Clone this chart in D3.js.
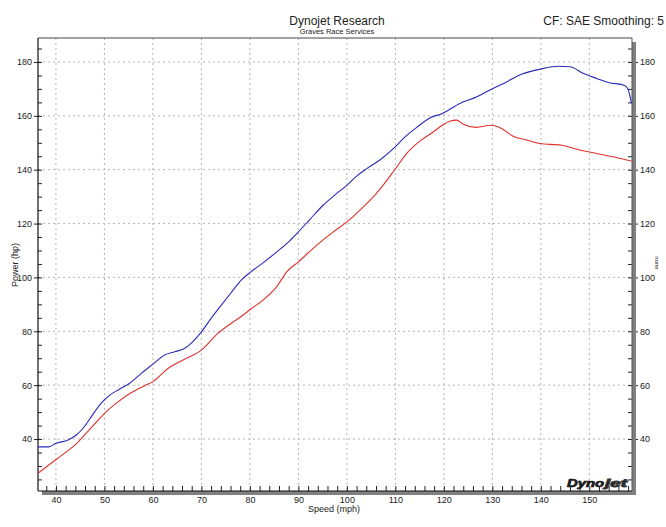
<!DOCTYPE html>
<html>
<head>
<meta charset="utf-8">
<script src="https://cdn.jsdelivr.net/npm/d3@7"></script>
<style>
    body { margin: 0; background: #fff; }
    text { font-family: "Liberation Sans", "DejaVu Sans", sans-serif; fill: #222; }
</style>
</head>
<body>
<svg id="dyno" width="666" height="527"></svg>
<script>
// run 1 (blue) and run 2 (red)
let blueSpeed = [36.3, 38.5, 40, 42.5, 44.2, 45.6, 47.3, 49.3, 51.1, 53.1, 55.2, 57.6, 60, 62.4,
    64.5, 66.5, 68.2, 70, 72, 74.1, 76.1, 78.2, 80, 82.7, 85.5, 88.2, 90, 92.4, 95.1, 97.9, 100,
    102, 104.1, 106.8, 109.8, 112, 114.4, 117.1, 119.7, 123.3, 126.7, 129.7, 132.9, 136, 139.8,
    143.6, 146, 148.7, 151.5, 153.9, 157.3, 158, 158.7];
let bluePower = [37.1, 37.1, 38.4, 39.6, 41.5, 44, 48.3, 53.2, 56.3, 58.5, 60.7, 64.4, 67.8, 71.2,
    72.4, 73.6, 76.1, 79.8, 84.8, 89.7, 94.3, 99, 101.8, 105.4, 109.4, 113.6, 116.9, 121.6, 126.8,
    131.2, 134.2, 137.6, 140.4, 143.6, 148.2, 152.2, 155.7, 159.2, 160.9, 164.6, 167, 169.8, 172.6,
    175.4, 177.3, 178.4, 178.2, 175.8, 173.9, 172.4, 171.3, 169.8, 164.6];
let redSpeed = [36.3, 40.1, 42.2, 44.3, 46.3, 48.7, 50, 52.8, 55.5, 58.3, 60, 63.1, 66.5, 70, 73.4,
    76.1, 78.9, 80, 82.7, 85.5, 87.6, 90, 93.8, 97.2, 100, 103.4, 106.1, 109.8, 112.3, 115.1, 117.8,
    119.7, 121.2, 122.6, 124, 126.7, 129.7, 131.9, 134.3, 137.1, 139.8, 144.3, 147.4, 151.5, 155.6,
    158.7];
let redPower = [27.3, 32.5, 35.3, 38.4, 42.3, 47, 49.5, 53.8, 57.2, 59.8, 61.3, 66.2, 69.6, 73, 79.2,
    82.9, 86.4, 88, 91.6, 96.5, 102.1, 105.8, 112, 116.9, 120.6, 126.2, 131.2, 139.8, 146, 150.7,
    154, 156.5, 158, 158.4, 156.9, 155.7, 156.5, 155.3, 152.4, 151, 149.7, 149.1, 147.6, 146, 144.5,
    143.2];

let xMajor = [40, 50, 60, 70, 80, 90, 100, 110, 120, 130, 140, 150];
let yMajor = [40, 60, 80, 100, 120, 140, 160, 180];

let title = "Dynojet Research",
    subTitle = "Graves Race Services",
    cfText = "CF: SAE Smoothing: 5";

// plot box ("top" is taken by window.top, so prefix these)
let boxL = 38, boxR = 632, boxT = 38, boxB = 491;
let svg = d3.select("#dyno");

let xScale = d3.scaleLinear().domain([36.3, 158.8]).range([boxL, boxR]);
let yScale = d3.scaleLinear().domain([20.7, 188.9]).range([boxB, boxT]);

// drop shadow on the right and bottom
svg.append("rect").attr("x", boxR).attr("y", boxT + 4)
    .attr("width", 4).attr("height", boxB - boxT).attr("fill", "#808080");
svg.append("rect").attr("x", boxL + 4).attr("y", boxB)
    .attr("width", boxR - boxL).attr("height", 4).attr("fill", "#808080");

// dotted grid
let grid = svg.append("g").attr("stroke", "#b4b4b4").attr("stroke-dasharray", "2,3");
grid.selectAll(".vg").data(xMajor).join("line")
    .attr("x1", d => xScale(d)).attr("x2", d => xScale(d))
    .attr("y1", boxT).attr("y2", boxB);
grid.selectAll(".hg").data(yMajor).join("line")
    .attr("y1", d => yScale(d)).attr("y2", d => yScale(d))
    .attr("x1", boxL).attr("x2", boxR);

// axes: minor ticks point inward, major ticks stick out to the labels
let tidy = g => {
    g.select(".domain").remove();
    g.selectAll("line").attr("stroke", "#222");
    g.selectAll("text").attr("font-size", 9);
};
let minorY = d3.range(25, 189, 5);
let minorX = d3.range(38, 159, 2);

svg.append("g").attr("transform", `translate(${boxL},0)`)
    .call(d3.axisLeft(yScale).tickValues(minorY).tickSize(-4).tickFormat(""))
    .call(tidy);
svg.append("g").attr("transform", `translate(${boxL},0)`)
    .call(d3.axisLeft(yScale).tickValues(yMajor).tickSize(4).tickPadding(2))
    .call(tidy);
svg.append("g").attr("transform", `translate(${boxR},0)`)
    .call(d3.axisRight(yScale).tickValues(minorY).tickSize(-4).tickFormat(""))
    .call(tidy);
svg.append("g").attr("transform", `translate(${boxR + 4},0)`)
    .call(d3.axisRight(yScale).tickValues(yMajor).tickSize(2).tickPadding(2))
    .call(tidy);
svg.append("g").attr("transform", `translate(0,${boxB})`)
    .call(d3.axisBottom(xScale).tickValues(minorX).tickSize(-5).tickFormat(""))
    .call(tidy);
svg.append("g").attr("transform", `translate(0,${boxB + 4})`)
    .call(d3.axisBottom(xScale).tickValues(xMajor).tickSize(0).tickPadding(2))
    .call(tidy);

// frame
svg.append("line").attr("x1", boxL).attr("x2", boxL).attr("y1", boxT).attr("y2", boxB)
    .attr("stroke", "#111").attr("stroke-width", 1.2);
svg.append("line").attr("x1", boxL).attr("x2", boxR).attr("y1", boxB).attr("y2", boxB)
    .attr("stroke", "#111").attr("stroke-width", 1.2);
svg.append("line").attr("x1", boxL).attr("x2", boxR).attr("y1", boxT).attr("y2", boxT)
    .attr("stroke", "#444");
svg.append("line").attr("x1", boxR).attr("x2", boxR).attr("y1", boxT).attr("y2", boxB)
    .attr("stroke", "#555");

// the two runs
let line = d3.line().x(d => xScale(d[0])).y(d => yScale(d[1])).curve(d3.curveMonotoneX);
svg.append("path").datum(d3.zip(redSpeed, redPower))
    .attr("d", line).attr("fill", "none").attr("stroke", "#e0302c").attr("stroke-width", 1.1);
svg.append("path").datum(d3.zip(blueSpeed, bluePower))
    .attr("d", line).attr("fill", "none").attr("stroke", "#2a2ab8").attr("stroke-width", 1.1);

// titles
svg.append("text").attr("x", 337).attr("y", 25).attr("text-anchor", "middle")
    .attr("font-size", 12).text(title);
svg.append("text").attr("x", 337).attr("y", 34).attr("text-anchor", "middle")
    .attr("font-size", 7.5).text(subTitle);
svg.append("text").attr("x", 664).attr("y", 25).attr("text-anchor", "end")
    .attr("font-size", 12).text(cfText);

// axis titles
svg.append("text").attr("x", 334).attr("y", 512).attr("text-anchor", "middle")
    .attr("font-size", 9).text("Speed (mph)");
svg.append("text").attr("transform", "translate(18,265) rotate(-90)")
    .attr("text-anchor", "middle").attr("font-size", 9).text("Power (hp)");
svg.append("text").attr("transform", "translate(655,263) rotate(90)")
    .attr("text-anchor", "middle").attr("font-size", 6).text("none");

// Dynojet badge, bottom right
let badge = svg.append("g").attr("transform", "translate(567,487)")
    .attr("font-weight", "bold").attr("font-style", "italic").attr("font-size", 10);
badge.append("text").attr("x", 0).attr("textLength", 37).attr("lengthAdjust", "spacingAndGlyphs")
    .attr("fill", "#c41820").attr("stroke", "#111").attr("stroke-width", 0.6).text("Dyno");
badge.append("text").attr("x", 38).attr("textLength", 22).attr("lengthAdjust", "spacingAndGlyphs")
    .attr("fill", "#fff").attr("stroke", "#333").attr("stroke-width", 0.8).text("jet");
</script>
</body>
</html>
